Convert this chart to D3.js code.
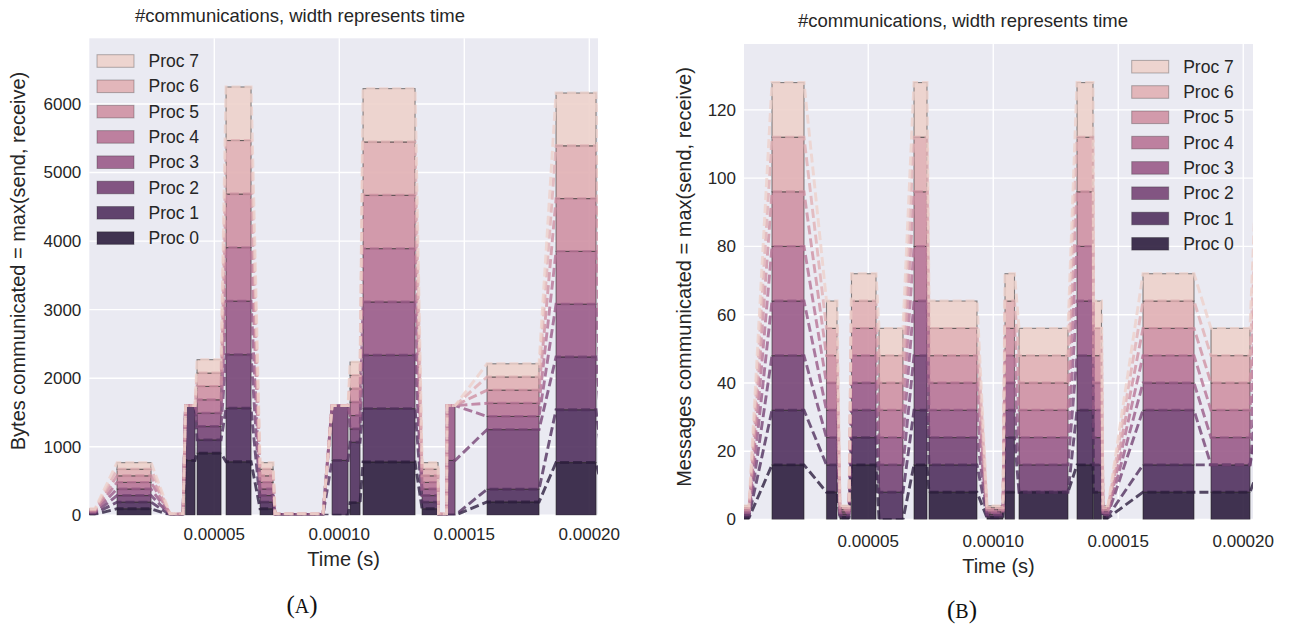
<!DOCTYPE html>
<html>
<head>
<meta charset="utf-8">
<script src="https://cdn.jsdelivr.net/npm/d3@7/dist/d3.min.js"></script>
<style>
  body { margin: 0; background: #fff; }
  svg { font-family: 'Liberation Sans', Arial, sans-serif; }
</style>
</head>
<body>
<svg id="fig" width="1290" height="628"></svg>
<script>
// PROCESSES
const procNames = ['Proc 0', 'Proc 1', 'Proc 2', 'Proc 3', 'Proc 4', 'Proc 5', 'Proc 6', 'Proc 7'];

// (A) BYTES: start time of each bar (s), its duration (s), bytes per proc
const bytesStart = [0, 0.0000111, 0.0000323, 0.0000385, 0.0000431, 0.0000547, 0.0000683, 0.0000743,
    0.0000971, 0.0001043, 0.0001095, 0.0001331, 0.0001397, 0.0001431, 0.0001591, 0.0001867, 0.000207];
const bytesWidth = [0.0000023, 0.0000136, 0.0000052, 0.0000038, 0.0000096, 0.00001, 0.0000052, 0.0000192,
    0.0000064, 0.000004, 0.0000208, 0.0000064, 0.0000032, 0.0000032, 0.0000208, 0.000016, 0.000006];
const bytesValues = [
    [12, 12, 12, 12, 12, 12, 12, 12],
    [96, 96, 96, 96, 96, 96, 96, 96],
    [3, 3, 3, 3, 3, 3, 3, 3],
    [800, 800, 0, 0, 0, 0, 0, 0],
    [905, 195, 195, 195, 195, 195, 195, 195],
    [781, 781, 781, 781, 781, 781, 781, 781],
    [96, 96, 96, 96, 96, 96, 96, 96],
    [3, 3, 3, 3, 3, 3, 3, 3],
    [0, 800, 800, 0, 0, 0, 0, 0],
    [185, 880, 195, 195, 195, 195, 195, 195],
    [778, 778, 778, 778, 778, 778, 778, 778],
    [96, 96, 96, 96, 96, 96, 96, 96],
    [3, 3, 3, 3, 3, 3, 3, 3],
    [0, 0, 800, 800, 0, 0, 0, 0],
    [195, 185, 870, 192, 192, 192, 192, 192],
    [770, 770, 770, 770, 770, 770, 770, 770],
    [96, 96, 96, 96, 96, 96, 96, 96]
];

// (B) MESSAGES: start time of each bar (s), its duration (s), messages per proc
const msgStart = [0, 0.0000115, 0.0000333, 0.0000387, 0.0000433, 0.0000543, 0.0000683, 0.0000743,
    0.0000975, 0.0001047, 0.0001103, 0.0001335, 0.0001401, 0.0001439, 0.0001599, 0.0001871, 0.0002067];
const msgWidth = [0.0000023, 0.0000128, 0.0000042, 0.0000036, 0.0000098, 0.0000096, 0.0000052, 0.0000192,
    0.0000064, 0.0000038, 0.0000196, 0.0000064, 0.0000032, 0.000002, 0.0000204, 0.0000156, 0.000006];
const msgValues = [
    [0.5, 0.5, 0.5, 0.5, 0.5, 0.5, 0.5, 0.5],
    [16, 16, 16, 16, 16, 16, 16, 16],
    [8, 8, 8, 8, 8, 8, 8, 8],
    [0.5, 0.5, 0.5, 0.5, 0.5, 0.5, 0.5, 0.5],
    [16, 8, 8, 8, 8, 8, 8, 8],
    [0, 8, 8, 8, 8, 8, 8, 8],
    [16, 16, 16, 16, 16, 16, 16, 16],
    [8, 8, 8, 8, 8, 8, 8, 8],
    [0.5, 0.5, 0.5, 0.5, 0.5, 0.5, 0.5, 0.5],
    [8, 16, 8, 8, 8, 8, 8, 8],
    [8, 0, 8, 8, 8, 8, 8, 8],
    [16, 16, 16, 16, 16, 16, 16, 16],
    [8, 8, 8, 8, 8, 8, 8, 8],
    [0.5, 0.5, 0.5, 0.5, 0.5, 0.5, 0.5, 0.5],
    [8, 8, 16, 8, 8, 8, 8, 8],
    [8, 8, 0, 8, 8, 8, 8, 8],
    [16, 16, 16, 16, 16, 16, 16, 16]
];

// TICKS
const timeTicks = [0.00005, 0.0001, 0.00015, 0.0002];
const bytesTicks = [0, 1000, 2000, 3000, 4000, 5000, 6000];
const msgTicks = [0, 20, 40, 60, 80, 100, 120];

// CUBEHELIX PALETTE (dark -> light)
const colors = ['#2d1e3e', '#51315e', '#774576', '#9a5b88', '#b87496', '#cf91a3', '#e1b0b4', '#edd1cb'];
const textColor = '#262626';

const svg = d3.select('#fig');

function drawPanel(p) {
    const rows = p.start.map((s, i) => ({ start: s, width: p.width[i], values: p.values[i] }));

    const x = d3.scaleLinear().domain(p.xDomain).range([p.left, p.right]);
    const y = d3.scaleLinear().domain([0, p.yMax]).range([p.bottom, p.top]);

    const g = svg.append('g');

    // CLIP + BACKGROUND
    g.append('clipPath').attr('id', p.id + '-clip')
        .append('rect')
        .attr('x', p.left).attr('y', p.top)
        .attr('width', p.right - p.left).attr('height', p.bottom - p.top);

    g.append('rect')
        .attr('x', p.left).attr('y', p.top)
        .attr('width', p.right - p.left).attr('height', p.bottom - p.top)
        .attr('fill', '#eaeaf2');

    // GRID
    g.append('g')
        .selectAll('line')
        .data(p.yTicks)
        .join('line')
        .attr('x1', p.left).attr('x2', p.right)
        .attr('y1', d => y(d)).attr('y2', d => y(d))
        .attr('stroke', '#fff').attr('stroke-width', 1.4);

    g.append('g')
        .selectAll('line')
        .data(timeTicks)
        .join('line')
        .attr('x1', d => x(d)).attr('x2', d => x(d))
        .attr('y1', p.top).attr('y2', p.bottom)
        .attr('stroke', '#fff').attr('stroke-width', 1.4);

    // STACK
    const series = d3.stack()
        .keys(d3.range(procNames.length))
        .value((d, k) => d.values[k])(rows);

    const plot = g.append('g').attr('clip-path', `url(#${p.id}-clip)`);

    // BARS (width = duration)
    series.forEach((s, k) => {
        plot.append('g')
            .selectAll('rect')
            .data(s.filter(d => d[1] > d[0]))
            .join('rect')
            .attr('x', d => x(d.data.start))
            .attr('width', d => x(d.data.start + d.data.width) - x(d.data.start))
            .attr('y', d => y(d[1]))
            .attr('height', d => y(d[0]) - y(d[1]))
            .attr('fill', colors[k])
            .attr('fill-opacity', 0.9)
            .attr('stroke', '#1a1a1a')
            .attr('stroke-opacity', 0.5)
            .attr('stroke-width', 1.1);
    });

    // DASHED LINES linking the top of each proc between bars
    const line = d3.line().x(d => x(d[0])).y(d => y(d[1]));
    series.forEach((s, k) => {
        const pts = s.flatMap(d => [[d.data.start, d[1]], [d.data.start + d.data.width, d[1]]]);
        plot.append('path')
            .attr('d', line(pts))
            .attr('fill', 'none')
            .attr('stroke', colors[k])
            .attr('stroke-opacity', 0.8)
            .attr('stroke-width', 2.9)
            .attr('stroke-dasharray', '9,4');
    });

    // TICK LABELS
    g.append('g')
        .selectAll('text')
        .data(p.yTicks)
        .join('text')
        .attr('x', p.left - 8)
        .attr('y', d => y(d))
        .attr('dy', '0.35em')
        .attr('text-anchor', 'end')
        .attr('font-size', 17)
        .attr('fill', textColor)
        .text(d => d);

    g.append('g')
        .selectAll('text')
        .data(timeTicks)
        .join('text')
        .attr('x', d => x(d))
        .attr('y', p.xTickY)
        .attr('text-anchor', 'middle')
        .attr('font-size', 17)
        .attr('fill', textColor)
        .text(d => d3.format('.5f')(d));

    // TITLE + AXIS LABELS
    g.append('text')
        .attr('x', p.titleX).attr('y', p.titleY)
        .attr('text-anchor', 'middle')
        .attr('font-size', 18.5)
        .attr('fill', textColor)
        .text('#communications, width represents time');

    g.append('text')
        .attr('x', (p.left + p.right) / 2).attr('y', p.xLabelY)
        .attr('text-anchor', 'middle')
        .attr('font-size', 20)
        .attr('fill', textColor)
        .text('Time (s)');

    g.append('text')
        .attr('transform', `translate(${p.yLabelX},${p.yLabelY})rotate(-90)`)
        .attr('text-anchor', 'middle')
        .attr('font-size', 20)
        .attr('fill', textColor)
        .text(p.yLabel);

    // LEGEND (Proc 7 on top)
    const legend = g.append('g')
        .selectAll('g')
        .data(d3.range(procNames.length).reverse())
        .join('g')
        .attr('transform', (k, i) => `translate(${p.legendX},${p.legendY + i * 25.3})`);

    legend.append('rect')
        .attr('x', 0).attr('y', -6.3)
        .attr('width', 37).attr('height', 12.6)
        .attr('fill', k => colors[k])
        .attr('fill-opacity', 0.9)
        .attr('stroke', '#1a1a1a')
        .attr('stroke-opacity', 0.3)
        .attr('stroke-width', 1);

    legend.append('text')
        .attr('x', 51.5)
        .attr('dy', '0.35em')
        .attr('font-size', 17.5)
        .attr('fill', textColor)
        .text(k => procNames[k]);

    // CAPTION
    const cap = svg.append('text')
        .attr('x', p.capX).attr('y', p.capY)
        .attr('text-anchor', 'middle')
        .attr('font-family', "'Liberation Serif', serif")
        .attr('font-size', 25)
        .attr('fill', '#111');
    cap.append('tspan').text('(');
    cap.append('tspan').attr('font-size', 20).text(p.caption);
    cap.append('tspan').text(')');
}

drawPanel({
    id: 'bytes',
    start: bytesStart, width: bytesWidth, values: bytesValues,
    left: 89.3, right: 598, top: 38.3, bottom: 515.3,
    xDomain: [0, 0.00020348], yMax: 6958, yTicks: bytesTicks,
    xTickY: 540, xLabelY: 566, titleX: 300, titleY: 22,
    yLabel: 'Bytes communicated = max(send, receive)', yLabelX: 25, yLabelY: 261,
    legendX: 97, legendY: 61,
    caption: 'A', capX: 302, capY: 613
});

drawPanel({
    id: 'msgs',
    start: msgStart, width: msgWidth, values: msgValues,
    left: 744, right: 1253, top: 44, bottom: 519.5,
    xDomain: [0.0000003, 0.0002039], yMax: 139.3, yTicks: msgTicks,
    xTickY: 547, xLabelY: 573, titleX: 963, titleY: 27,
    yLabel: 'Messages communicated = max(send, receive)', yLabelX: 691, yLabelY: 277,
    legendX: 1131.7, legendY: 66.7,
    caption: 'B', capX: 962, capY: 618
});
</script>
</body>
</html>
